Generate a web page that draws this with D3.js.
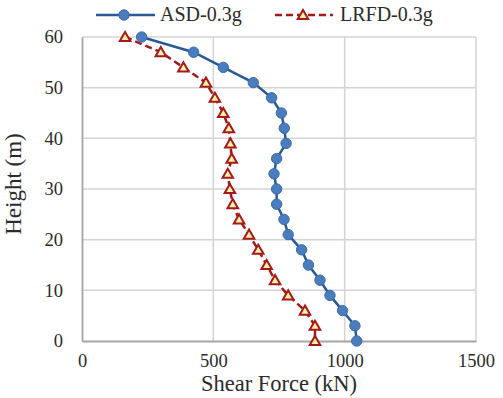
<!DOCTYPE html>
<html><head><meta charset="utf-8">
<script src="https://cdn.jsdelivr.net/npm/d3@7"></script>
<style>body{margin:0;background:#fff}svg{display:block}</style>
</head><body>
<svg id="c" width="503" height="398"></svg>
<script>
const heights = [60,57,54,51,48,45,42,39,36,33,30,27,24,21,18,15,12,9,6,3,0];
const asd  = [227,425,538,652,722,759,770,777,741,731,741,741,769,785,836,862,906,944,992,1039,1046];
const lrfd = [164,300,386,472,506,538,559,565,570,555,563,574,598,636,671,703,735,785,849,887,887];
const xTicks = [0,500,1000,1500];
const yTicks = [0,10,20,30,40,50,60];
const seriesNames = ["ASD-0.3g","LRFD-0.3g"];

const FONT = "Liberation Serif";
const TXT = "#2b2b2b";
const svg = d3.select("#c");
const L=82, R=476, T=37, B=341;
const x = d3.scaleLinear().domain([0,1500]).range([L,R]);
const y = d3.scaleLinear().domain([0,60]).range([B,T]);

// grid
svg.append("g").selectAll("line").data(yTicks.filter(d=>d>0)).join("line")
  .attr("x1",L).attr("x2",R).attr("y1",d=>y(d)).attr("y2",d=>y(d))
  .attr("stroke","#d4d4d4").attr("stroke-width",1.5);
svg.append("g").selectAll("line").data(xTicks.filter(d=>d>0)).join("line")
  .attr("y1",T).attr("y2",B).attr("x1",d=>x(d)).attr("x2",d=>x(d))
  .attr("stroke","#d4d4d4").attr("stroke-width",1.5);

// axes
const xAxis = d3.axisBottom(x).tickValues(xTicks).tickSize(0).tickPadding(13).tickFormat(d3.format("d"));
const gx = svg.append("g").attr("transform",`translate(0,${B})`).call(xAxis);
gx.attr("font-family",FONT).attr("font-size",18.5);
gx.select(".domain").attr("stroke","#a6a6a6").attr("stroke-width",1.8);
gx.selectAll("text").attr("fill",TXT);

const yAxis = d3.axisLeft(y).tickValues(yTicks).tickSize(0).tickPadding(19).tickFormat(d3.format("d"));
const gy = svg.append("g").attr("transform",`translate(${L},0)`).call(yAxis);
gy.attr("font-family",FONT).attr("font-size",18.5);
gy.select(".domain").attr("stroke","#a6a6a6").attr("stroke-width",1.8);
gy.selectAll("text").attr("fill",TXT);

// titles
svg.append("text").attr("x",279).attr("y",391).attr("text-anchor","middle")
  .attr("font-family",FONT).attr("font-size",22.5).attr("fill",TXT).text("Shear Force (kN)");
svg.append("text").attr("transform","translate(21,184) rotate(-90)").attr("text-anchor","middle")
  .attr("font-family",FONT).attr("font-size",23).attr("fill",TXT).text("Height (m)");

const blue="#2a5a96", blueFill="#4a7dbd", red="#a31a1a", yellow="#fdf0a8";
const asdData = heights.map((h,i)=>({h, v:asd[i]}));
const lrfdData = heights.map((h,i)=>({h, v:lrfd[i]}));
const line = d3.line().x(d=>x(d.v)).y(d=>y(d.h));
const tri = d3.symbol().type(d3.symbolTriangle).size(48);

svg.append("path").datum(lrfdData).attr("d",line).attr("fill","none")
  .attr("stroke",red).attr("stroke-width",2.5).attr("stroke-dasharray","7,4");
svg.append("g").selectAll("path").data(lrfdData).join("path")
  .attr("d",tri).attr("transform",d=>`translate(${x(d.v)},${y(d.h)+1})`)
  .attr("fill",yellow).attr("stroke",red).attr("stroke-width",2);

svg.append("path").datum(asdData).attr("d",line).attr("fill","none")
  .attr("stroke",blue).attr("stroke-width",2.5);
svg.append("g").selectAll("circle").data(asdData).join("circle")
  .attr("cx",d=>x(d.v)).attr("cy",d=>y(d.h)).attr("r",5.2)
  .attr("fill",blueFill).attr("stroke","#3b6aa8").attr("stroke-width",1);

// legend
const ly=15;
svg.append("line").attr("x1",96).attr("x2",155).attr("y1",ly).attr("y2",ly).attr("stroke",blue).attr("stroke-width",2.5);
svg.append("circle").attr("cx",124).attr("cy",ly).attr("r",5.2).attr("fill",blueFill).attr("stroke","#3b6aa8");
svg.append("text").attr("x",160).attr("y",ly+6).attr("font-family",FONT).attr("font-size",20).attr("fill",TXT).text(seriesNames[0]);
svg.append("line").attr("x1",275).attr("x2",333).attr("y1",ly).attr("y2",ly).attr("stroke",red).attr("stroke-width",2.5).attr("stroke-dasharray","7,4");
svg.append("path").attr("d",tri).attr("transform",`translate(303,${ly+1})`).attr("fill",yellow).attr("stroke",red).attr("stroke-width",2);
svg.append("text").attr("x",340).attr("y",ly+6).attr("font-family",FONT).attr("font-size",20).attr("fill",TXT).text(seriesNames[1]);
</script>
</body></html>
